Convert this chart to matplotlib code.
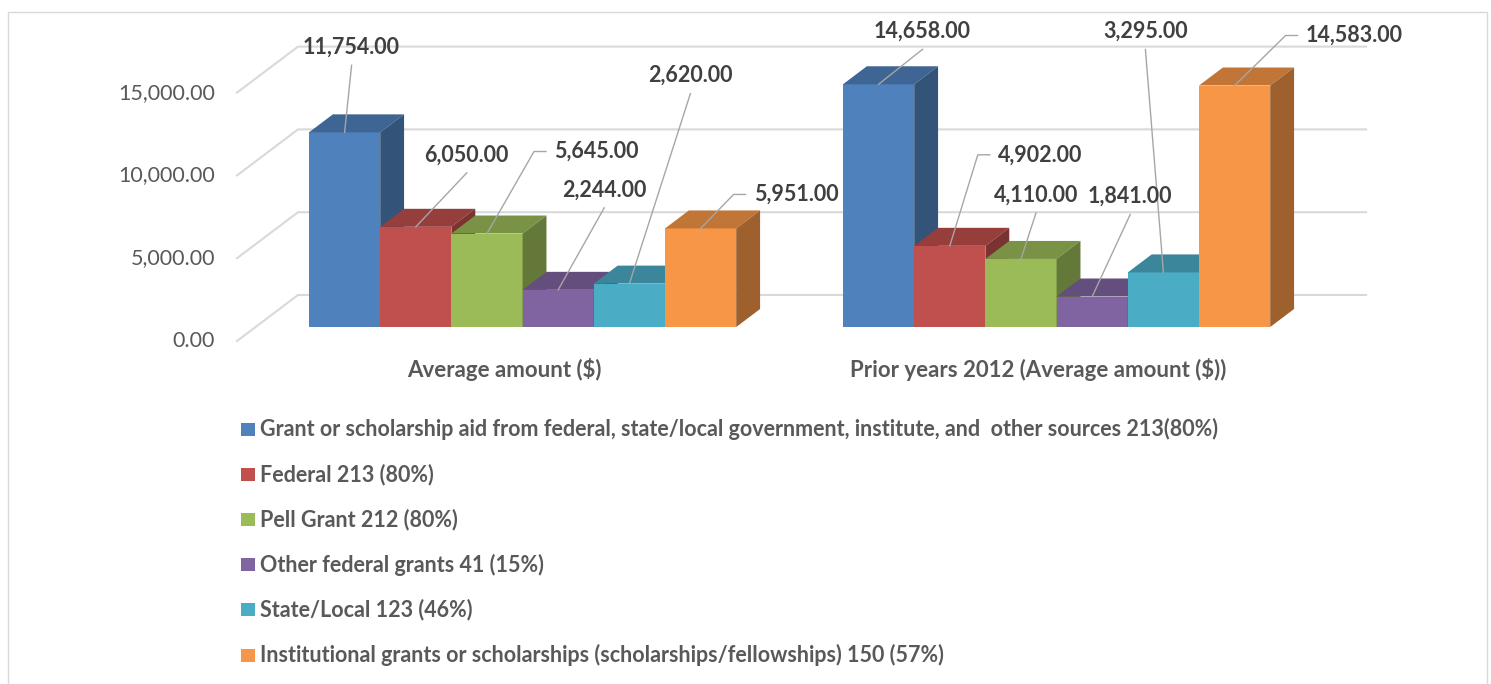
import matplotlib.pyplot as plt
from matplotlib.patches import Polygon, Rectangle

plt.rcParams['font.family'] = ['Lato', 'DejaVu Sans']

categories = ['Average amount ($)', 'Prior years 2012 (Average amount ($))']
series = ['Grant or scholarship aid from federal, state/local government, institute, and  other sources 213(80%)',
          'Federal 213 (80%)',
          'Pell Grant 212 (80%)',
          'Other federal grants 41 (15%)',
          'State/Local 123 (46%)',
          'Institutional grants or scholarships (scholarships/fellowships) 150 (57%)']
grant_total = [11754, 14658]
federal = [6050, 4902]
pell = [5645, 4110]
other_federal = [2244, 1841]
state_local = [2620, 3295]
institutional = [5951, 14583]
yticks = [0, 5000, 10000, 15000]

values = [grant_total, federal, pell, other_federal, state_local, institutional]
colors = ['#4F81BD', '#C0504D', '#9BBB59', '#8064A2', '#4BACC6', '#F79646']

# label placement (pixels from the bar's front top centre) and leader style
label_off = [[(7, 85), (44, 53)], [(51, 72), (48, 91)], [(67, 82), (15, 64)],
             [(46, 100), (38, 100)], [(61, 208), (-18, 241)], [(53, 34), (71, 50)]]
label_side = [[False, False], [False, True], [True, False],
              [False, False], [False, False], [True, True]]

W, H = 1491, 684
X0, BAR, Y0, PXV = 309, 71.2, 327, 82.8 / 5000   # front plane of the bars
DX, DY = 61 / BAR, 46 / PXV                       # full floor depth
F0, F1 = 14 / 46, 32 / 46                         # bar front / back depth
XL, XR = -0.75, 14.25
GRID = '#D9D9D9'


def shade(c, k):
    r, g, b = plt.matplotlib.colors.to_rgb(c)
    return (r * k, g * k, b * k)


def at(x, v, f):
    return (x + (f - F0) * DX, v + (f - F0) * DY)


def px(dx, dy):
    return dx / BAR, dy / PXV


fig = plt.figure(figsize=(W / 100, H / 100), dpi=100)
ax = fig.add_axes([0, 0, 1, 1])
ax.set_xlim(-X0 / BAR, (W - X0) / BAR)
ax.set_ylim((Y0 - H) / PXV, Y0 / PXV)
ax.axis('off')

fig.patches.append(Rectangle((8 / W, -0.02), 1479 / W, (H - 12) / H + 0.02, fill=False,
                             ec=GRID, lw=1, transform=fig.transFigure))

# walls
for v in yticks:
    p0, p1, p2 = at(XL, v, 0), at(XL, v, 1), at(XR, v, 1)
    ax.plot([p0[0], p1[0], p2[0]], [p0[1], p1[1], p2[1]], color=GRID, lw=1.5, zorder=1)
    ox, _ = px(-22, 0)
    ax.text(p0[0] + ox, p0[1], f'{v:,.2f}', ha='right', va='center', fontsize=15.5, color='#595959')

# bars
for i, (vals, c) in enumerate(zip(values, colors)):
    xs = [g * 7.5 + i for g in range(len(vals))]
    ax.bar(xs, vals, width=1, align='edge', color=c, zorder=2 + i)
    for x, v in zip(xs, vals):
        top = [(x, v), (x + 1, v), at(x + 1, v, F1), at(x, v, F1)]
        side = [(x + 1, 0), (x + 1, v), at(x + 1, v, F1), at(x + 1, 0, F1)]
        ax.add_patch(Polygon(top, closed=True, fc=shade(c, 0.78), ec='none', zorder=2 + i))
        ax.add_patch(Polygon(side, closed=True, fc=shade(c, 0.64), ec='none', zorder=2 + i))

# data labels with leader lines
for i, vals in enumerate(values):
    for g, v in enumerate(vals):
        cx = g * 7.5 + i + 0.5
        ox, oy = px(*label_off[i][g])
        tx, ty = cx + ox, v + oy
        if label_side[i][g]:
            ax.text(tx, ty, f'{v:,.2f}', ha='left', va='center', fontsize=15.5,
                    fontweight='bold', color='#404040', zorder=20)
            a, _ = px(-8, 0)
            b, _ = px(-20, 0)
            lx, ly = [tx + a, tx + b, cx], [ty, ty, v]
        else:
            ax.text(tx, ty, f'{v:,.2f}', ha='center', va='center', fontsize=15.5,
                    fontweight='bold', color='#404040', zorder=20)
            _, d = px(0, -18)
            lx, ly = [tx, cx], [ty + d, v]
        ax.plot(lx, ly, color='#A6A6A6', lw=1, zorder=19)

# category labels on the floor front edge
for g, name in enumerate(categories):
    x, y = at(g * 7.5 + 3, 0, 0)
    _, d = px(0, -28)
    ax.text(x, y + d, name, ha='center', va='center', fontsize=16,
            fontweight='bold', color='#595959')

# legend
for k, (name, c) in enumerate(zip(series, colors)):
    yc = 429 + 45.2 * k
    fig.patches.append(Rectangle((241 / W, 1 - (yc + 6.5) / H), 13.5 / W, 13 / H,
                                 fc=c, ec='none', transform=fig.transFigure))
    fig.text(260 / W, 1 - yc / H, name, ha='left', va='center', fontsize=15.5,
             fontweight='bold', color='#595959')

fig.savefig('out.png', dpi=100)
